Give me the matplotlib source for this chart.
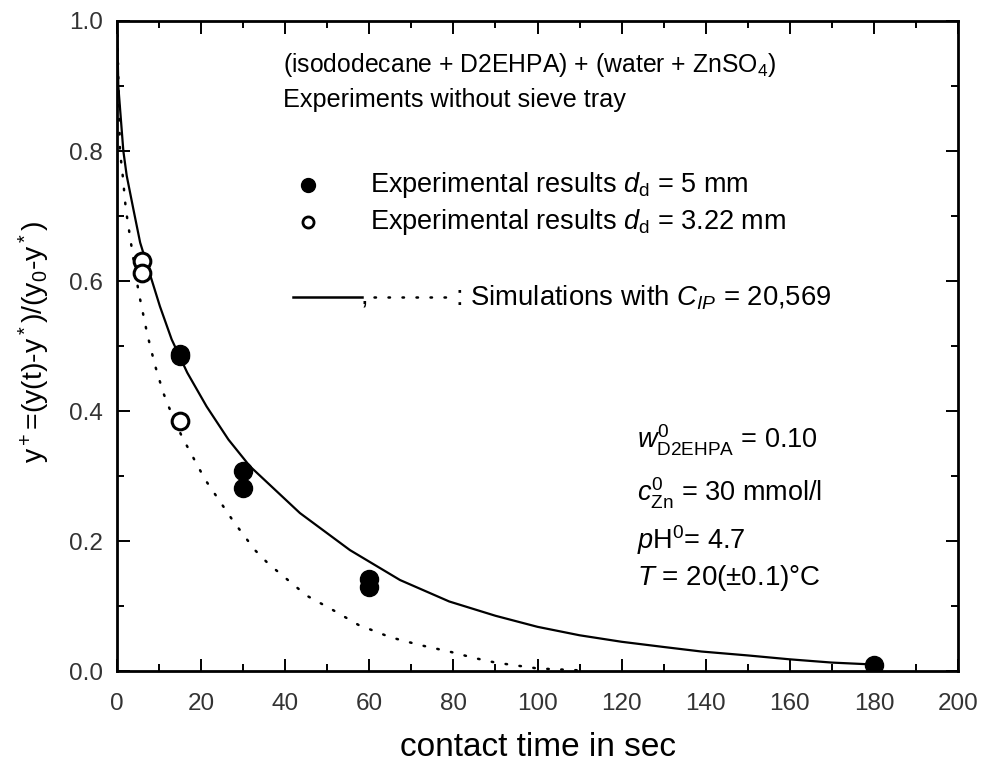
import numpy as np
import matplotlib
matplotlib.use("Agg")
import matplotlib.pyplot as plt
from matplotlib.ticker import MultipleLocator

plt.rcParams['font.family'] = ['Liberation Sans', 'DejaVu Sans']
plt.rcParams['mathtext.fontset'] = 'custom'
plt.rcParams['mathtext.rm'] = 'Liberation Sans'
plt.rcParams['mathtext.it'] = 'Liberation Sans:italic'
plt.rcParams['mathtext.bf'] = 'Liberation Sans:bold'

# experimental points, d_d = 5 mm (filled)
t_5mm = [15, 15, 30, 30, 60, 60, 180]
y_5mm = [0.488, 0.484, 0.307, 0.281, 0.142, 0.130, 0.009]

# experimental points, d_d = 3.22 mm (open)
t_322 = [6, 6, 15]
y_322 = [0.631, 0.613, 0.385]

# simulation, solid line
t_sim_solid = [0, 0.3, 1.5, 2.3, 3.9, 5.5, 7.7, 10.2, 13.0, 16.7, 21.3, 26.5, 31.6,
               43.5, 55.4, 67.3, 79, 90, 100, 110, 120, 130, 139, 150, 160, 170, 180]
y_sim_solid = [1.0, 0.9, 0.8, 0.762, 0.71, 0.659, 0.613, 0.561, 0.51, 0.459, 0.407,
               0.356, 0.315, 0.243, 0.186, 0.14, 0.107, 0.085, 0.068, 0.055, 0.045,
               0.037, 0.03, 0.024, 0.018, 0.013, 0.01]

# simulation, dotted line
t_sim_dot = [0, 0.7, 1.35, 2.1, 3.3, 5.1, 7.2, 9.0, 11.0, 12.4, 15.4, 20.9, 27.7,
             32.8, 36.0, 45.1, 51.3, 57.4, 65, 72, 79, 85, 90, 100, 110]
y_sim_dot = [1.0, 0.8, 0.762, 0.71, 0.659, 0.584, 0.518, 0.471, 0.428, 0.405, 0.361,
             0.295, 0.23, 0.186, 0.165, 0.116, 0.094, 0.071, 0.052, 0.04, 0.03,
             0.02, 0.013, 0.004, 0.001]

fig = plt.figure(figsize=(9.86, 7.69), dpi=100)
ax = fig.add_axes([0.1187, 0.1274, 0.8529, 0.8453])

ax.plot(t_sim_solid, y_sim_solid, color='black', lw=1.6)
ax.plot(t_sim_dot, y_sim_dot, color='black', lw=1.8, linestyle=(0, (0.6, 5)),
        dash_capstyle='round')
ax.plot(t_5mm, y_5mm, 'o', color='black', ms=13, zorder=5)
ax.plot(t_322, y_322, 'o', mfc='white', mec='black', mew=2.2, ms=12, zorder=5)

ax.set_xlim(0, 200)
ax.set_ylim(0, 1.0)
ax.xaxis.set_major_locator(MultipleLocator(20))
ax.xaxis.set_minor_locator(MultipleLocator(10))
ax.yaxis.set_major_locator(MultipleLocator(0.2))
ax.yaxis.set_minor_locator(MultipleLocator(0.1))
ax.yaxis.set_major_formatter(matplotlib.ticker.FormatStrFormatter('%.1f'))
ax.tick_params(which='both', direction='in', top=True, right=True,
               labelsize=17.5, labelcolor='#333333', width=1.4)
ax.tick_params(which='major', length=9, pad=10)
ax.tick_params(axis='x', which='major', pad=16)
ax.tick_params(which='minor', length=5)
for s in ax.spines.values():
    s.set_linewidth(2)

ax.set_xlabel('contact time in sec', fontsize=24)
ax.set_ylabel(r'y$^+$=(y(t)-y$^*$)/(y$_0$-y$^*$)', fontsize=20.5)
ax.xaxis.set_label_coords(0.501, -0.094)
ax.yaxis.set_label_coords(-0.077, 0.506)

tr = ax.transAxes
ax.text(0.197, 0.932, r'(isododecane + D2EHPA) + (water + ZnSO$_4$)', transform=tr,
        fontsize=17.8, va='center')
ax.text(0.197, 0.878, 'Experiments without sieve tray', transform=tr,
        fontsize=18.2, va='center')

fs = 19.5
ax.plot([0.227], [0.748], 'o', color='black', ms=10, transform=tr, clip_on=False)
ax.text(0.301, 0.748, r'Experimental results $d_\mathrm{d}$ = 5 mm', transform=tr,
        fontsize=fs, va='center')
ax.plot([0.227], [0.691], 'o', mfc='white', mec='black', mew=2, ms=8, transform=tr,
        clip_on=False)
ax.text(0.301, 0.691, r'Experimental results $d_\mathrm{d}$ = 3.22 mm', transform=tr,
        fontsize=fs, va='center')

ax.plot([0.209, 0.291], [0.575, 0.575], color='black', lw=1.8, transform=tr)
ax.text(0.290, 0.575, ',', transform=tr, fontsize=fs, va='center')
ax.plot([0.305, 0.400], [0.575, 0.575], color='black', lw=1.8,
        linestyle=(0, (0.6, 5)), dash_capstyle='round', transform=tr)
ax.text(0.402, 0.575, r': Simulations with $C_{IP}$ = 20,569', transform=tr,
        fontsize=19.8, va='center')

fp = 19.5
ax.text(0.618, 0.355, r'$w^0_\mathrm{D2EHPA}$ = 0.10', transform=tr, fontsize=fp, va='center')
ax.text(0.618, 0.274, r'$c^0_\mathrm{Zn}$ = 30 mmol/l', transform=tr, fontsize=fp, va='center')
ax.text(0.618, 0.2015, r'$p$H$^0$= 4.7', transform=tr, fontsize=fp, va='center')
ax.text(0.618, 0.143, r'$T$ = 20($\pm$0.1)°C', transform=tr, fontsize=20, va='center')

fig.savefig('out.png', dpi=100)
